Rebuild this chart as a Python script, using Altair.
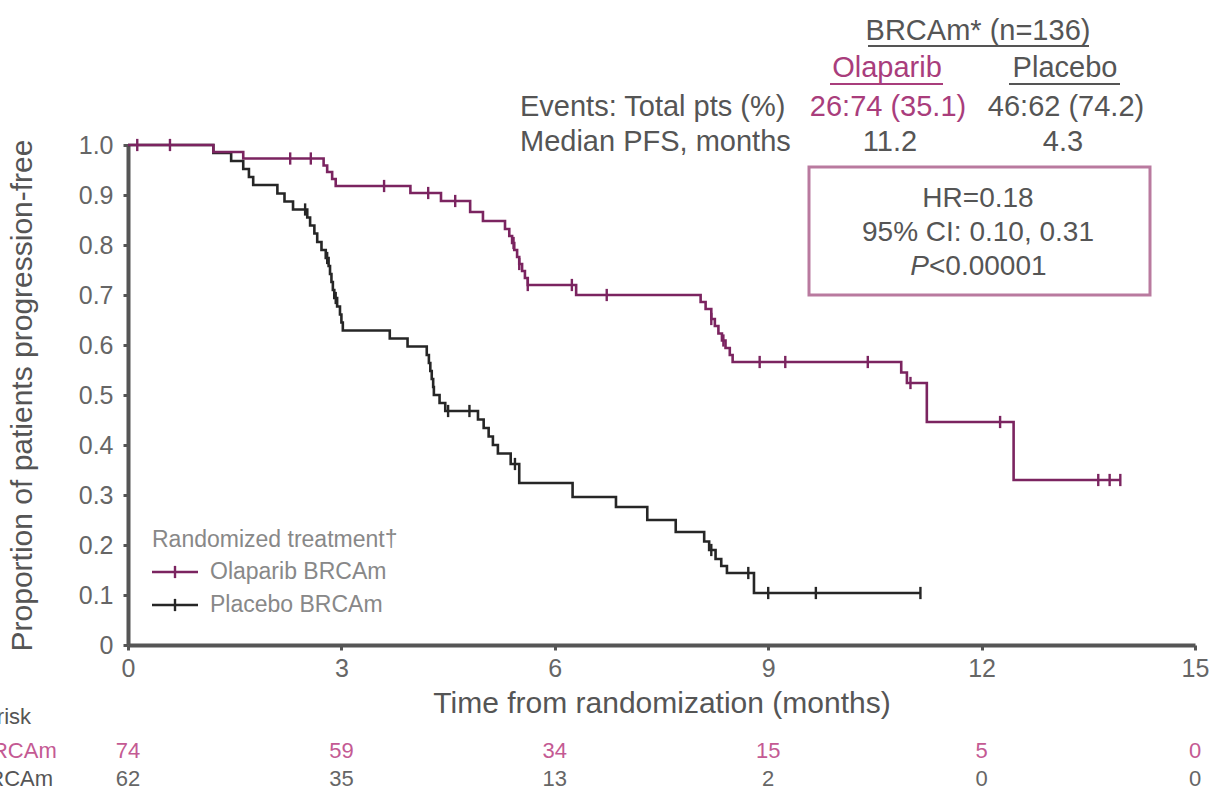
import altair as alt
import pandas as pd

# ---------------- data ----------------
SERIES = ["Olaparib BRCAm", "Placebo BRCAm"]

# Kaplan-Meier steps: month at which the curve drops, proportion progression-free from then on
ola_time = [0, 1.2, 1.62, 2.75, 2.8, 2.87, 2.92, 3.97, 4.4, 4.81, 4.99, 5.3, 5.36, 5.4,
            5.43, 5.47, 5.5, 5.54, 5.58, 5.62, 6.3, 8.05, 8.12, 8.2, 8.25, 8.3, 8.35, 8.4,
            8.46, 8.5, 10.87, 10.95, 11.23, 12.45]
ola_surv = [1.0, 0.986, 0.973, 0.959, 0.946, 0.932, 0.918, 0.904, 0.888, 0.866, 0.848, 0.832,
            0.818, 0.804, 0.79, 0.776, 0.762, 0.748, 0.734, 0.72, 0.70, 0.686, 0.672, 0.652,
            0.638, 0.623, 0.609, 0.594, 0.58, 0.566, 0.545, 0.524, 0.446, 0.33]
ola_censor = [0.13, 0.59, 2.28, 2.57, 3.6, 4.22, 4.6, 5.42, 5.5, 5.62, 6.24, 6.73, 8.2, 8.37,
              8.88, 9.24, 10.4, 11.0, 12.26, 13.64, 13.8, 13.95]

pla_time = [0, 1.2, 1.45, 1.62, 1.7, 1.76, 2.1, 2.2, 2.32, 2.52, 2.56, 2.62, 2.66, 2.72, 2.78,
            2.82, 2.84, 2.86, 2.88, 2.9, 2.94, 2.98, 3.0, 3.02, 3.68, 3.93, 4.2, 4.23, 4.25,
            4.27, 4.29, 4.3, 4.38, 4.46, 4.92, 5.0, 5.07, 5.13, 5.2, 5.38, 5.5, 6.25, 6.86,
            7.3, 7.7, 8.1, 8.17, 8.26, 8.34, 8.42, 8.8]
pla_surv = [1.0, 0.984, 0.968, 0.952, 0.936, 0.92, 0.903, 0.887, 0.871, 0.855, 0.839, 0.823,
            0.806, 0.79, 0.774, 0.758, 0.742, 0.726, 0.71, 0.694, 0.677, 0.661, 0.645, 0.629,
            0.613, 0.597, 0.58, 0.564, 0.548, 0.532, 0.516, 0.5, 0.484, 0.468, 0.451, 0.434,
            0.417, 0.40, 0.383, 0.362, 0.324, 0.296, 0.276, 0.25, 0.226, 0.207, 0.19, 0.172,
            0.158, 0.144, 0.104]
pla_censor = [2.49, 2.8, 2.92, 4.5, 4.8, 5.44, 8.2, 8.72, 9.0, 9.67, 11.14]

# numbers at risk
MONTHS = [0, 3, 6, 9, 12, 15]
at_risk_ola = [74, 59, 34, 15, 5, 0]
at_risk_pla = [62, 35, 13, 2, 0, 0]

Y_TICKS = [0, 0.1, 0.2, 0.3, 0.4, 0.5, 0.6, 0.7, 0.8, 0.9, 1.0]

# summary table text
HEADER = "BRCAm* (n=136)"
ARM_HEAD = ["Olaparib", "Placebo"]
ROW_LABELS = ["Events: Total pts (%)", "Median PFS, months"]
EVENTS = ["26:74 (35.1)", "46:62 (74.2)"]
MEDIANS = ["11.2", "4.3"]
HR_LINES = ["HR=0.18", "95% CI: 0.10, 0.31"]
P_TEXT = ["P", "<0.00001"]
LEGEND_TITLE = "Randomized treatment\u2020"
RISK_TITLE = "Number at risk"

# ---------------- styling ----------------
FONT = "Liberation Sans"
OLA_LINE = "#7b2460"
PLA_LINE = "#262626"
OLA_TEXT = "#a93d7c"
OLA_RISK = "#c45a93"
BOX = "#b97a9f"
GREY = "#555555"
LIGHT = "#888888"
W, H = 1067, 500


def step_rows(name, times, surv, censor):
    rows = [dict(series=name, t=t, s=s) for t, s in zip(times, surv)]
    rows.append(dict(series=name, t=censor[-1], s=surv[-1]))
    return rows


def value_at(times, surv, t):
    v = surv[0]
    for ti, si in zip(times, surv):
        if ti <= t:
            v = si
    return v


ola_steps = pd.DataFrame(step_rows(SERIES[0], ola_time, ola_surv, ola_censor))
pla_steps = pd.DataFrame(step_rows(SERIES[1], pla_time, pla_surv, pla_censor))
censors = pd.DataFrame(
    [dict(series=SERIES[0], t=t, s=value_at(ola_time, ola_surv, t)) for t in ola_censor]
    + [dict(series=SERIES[1], t=t, s=value_at(pla_time, pla_surv, t)) for t in pla_censor]
)
risk = pd.DataFrame(
    [dict(t=m, n=str(v), row=0) for m, v in zip(MONTHS, at_risk_ola)]
    + [dict(t=m, n=str(v), row=1) for m, v in zip(MONTHS, at_risk_pla)]
)

x_scale = alt.Scale(domain=[0, 15], nice=False, zero=False)
y_scale = alt.Scale(domain=[0, 1], nice=False)
color_scale = alt.Scale(domain=SERIES, range=[OLA_LINE, PLA_LINE])

x_axis = alt.Axis(
    values=MONTHS, title="Time from randomization (months)", titleFontSize=30,
    titleFontWeight="normal", titleColor=GREY, titleX=W / 2, titleY=58,
    titleBaseline="middle", labelFontSize=25, labelColor="#666666", labelPadding=6,
    labelFlush=False, tickSize=5, tickWidth=3, tickColor=GREY, domainWidth=4,
    domainColor=GREY, grid=False,
)
y_axis = alt.Axis(
    values=Y_TICKS, labelExpr="datum.value == 0 ? '0' : format(datum.value, '.1f')",
    title="Proportion of patients progression-free", titleFontSize=30,
    titleFontWeight="normal", titleColor=GREY, titleX=-106, titleY=H / 2,
    titleBaseline="middle", labelFontSize=25, labelColor="#666666", labelPadding=10,
    tickSize=5, tickWidth=3, tickColor=GREY, domainWidth=4, domainColor=GREY, grid=False,
)

base_x = alt.X("t:Q", scale=x_scale, axis=None)
base_y = alt.Y("s:Q", scale=y_scale, axis=None)
color = alt.Color("series:N", scale=color_scale, legend=None)

pla_line = alt.Chart(pla_steps).mark_line(interpolate="step-after", strokeWidth=2.6).encode(
    x=alt.X("t:Q", scale=x_scale, axis=x_axis),
    y=alt.Y("s:Q", scale=y_scale, axis=y_axis),
    color=color,
)
ola_line = alt.Chart(ola_steps).mark_line(interpolate="step-after", strokeWidth=2.6).encode(
    x=base_x, y=base_y, color=color
)
censor_marks = alt.Chart(censors).mark_point(
    shape="M0,-1L0,1", size=150, strokeWidth=2.4, filled=False, opacity=1
).encode(x=base_x, y=base_y, color=color)

risk_ola = alt.Chart(risk).transform_filter("datum.row == 0").mark_text(
    fontSize=22, color=OLA_RISK, align="center", baseline="middle"
).encode(x=base_x, y=alt.value(606), text="n:N")
risk_pla = alt.Chart(risk).transform_filter("datum.row == 1").mark_text(
    fontSize=22, color="#666666", align="center", baseline="middle"
).encode(x=base_x, y=alt.value(634), text="n:N")

# ---------------- annotation layout (pixel positions relative to the plot area) ----------------
centered = pd.DataFrame([
    dict(text=HEADER, px=850, py=-114, c=GREY, fs=29),
    dict(text=ARM_HEAD[0], px=759, py=-77, c=OLA_TEXT, fs=29),
    dict(text=ARM_HEAD[1], px=937, py=-77, c=GREY, fs=29),
    dict(text=EVENTS[0], px=760, py=-38, c=OLA_TEXT, fs=29),
    dict(text=EVENTS[1], px=938, py=-38, c=GREY, fs=29),
    dict(text=MEDIANS[0], px=762, py=-3, c=GREY, fs=29),
    dict(text=MEDIANS[1], px=935, py=-3, c=GREY, fs=29),
    dict(text=HR_LINES[0], px=850, py=54, c=GREY, fs=28),
    dict(text=HR_LINES[1], px=850, py=88, c=GREY, fs=28),
])
left = pd.DataFrame([
    dict(text=ROW_LABELS[0], px=392, py=-38, c=GREY, fs=29),
    dict(text=ROW_LABELS[1], px=392, py=-3, c=GREY, fs=29),
    dict(text=P_TEXT[1], px=801, py=122, c=GREY, fs=28),
    dict(text=LEGEND_TITLE, px=24, py=395, c=LIGHT, fs=23),
    dict(text=SERIES[0], px=82, py=427, c=LIGHT, fs=23),
    dict(text=SERIES[1], px=82, py=460, c=LIGHT, fs=23),
    dict(text=RISK_TITLE, px=-240, py=572, c=GREY, fs=22),
    dict(text=SERIES[0], px=-240, py=606, c=OLA_RISK, fs=22),
    dict(text=SERIES[1], px=-240, py=634, c=GREY, fs=22),
])
italic = pd.DataFrame([dict(text=P_TEXT[0], px=801, py=122, c=GREY, fs=28)])

rules = pd.DataFrame([
    dict(x1=740, x2=961, y=-99, c=GREY, w=2),
    dict(x1=702, x2=815, y=-61, c=OLA_TEXT, w=2),
    dict(x1=881, x2=992, y=-61, c=GREY, w=2),
    dict(x1=24, x2=70, y=427, c=OLA_LINE, w=2.6),
    dict(x1=24, x2=70, y=460, c=PLA_LINE, w=2.6),
])
legend_ticks = pd.DataFrame([dict(px=47, py=427, c=OLA_LINE), dict(px=47, py=460, c=PLA_LINE)])
box = pd.DataFrame([dict(x1=681, x2=1022, y1=22, y2=150)])

px = alt.X("px:Q", scale=None, axis=None)
py = alt.Y("py:Q", scale=None, axis=None)
tc = alt.Color("c:N", scale=None)
fsz = alt.Size("fs:Q", scale=None)

text_center = alt.Chart(centered).mark_text(align="center", baseline="middle").encode(
    x=px, y=py, text="text:N", color=tc, size=fsz)
text_left = alt.Chart(left).mark_text(align="left", baseline="middle").encode(
    x=px, y=py, text="text:N", color=tc, size=fsz)
text_italic = alt.Chart(italic).mark_text(align="right", baseline="middle", fontStyle="italic").encode(
    x=px, y=py, text="text:N", color=tc, size=fsz)
rule_layer = alt.Chart(rules).mark_rule().encode(
    x=alt.X("x1:Q", scale=None, axis=None), x2="x2:Q",
    y=alt.Y("y:Q", scale=None, axis=None), color=tc,
    strokeWidth=alt.StrokeWidth("w:Q", scale=None))
tick_layer = alt.Chart(legend_ticks).mark_point(
    shape="M0,-1L0,1", size=150, strokeWidth=2.4, filled=False, opacity=1
).encode(x=px, y=py, color=tc)
box_layer = alt.Chart(box).mark_rect(fillOpacity=0, stroke=BOX, strokeWidth=3).encode(
    x=alt.X("x1:Q", scale=None, axis=None), x2="x2:Q",
    y=alt.Y("y1:Q", scale=None, axis=None), y2="y2:Q")

chart = alt.layer(
    pla_line, ola_line, censor_marks, risk_ola, risk_pla,
    box_layer, rule_layer, tick_layer, text_center, text_left, text_italic,
).resolve_scale(color="independent").resolve_axis(x="independent", y="independent").properties(
    width=W, height=H,
    padding={"left": 128, "top": 145, "right": 17, "bottom": 147},
    autosize=alt.AutoSizeParams(type="none"),
    background="white",
).configure(font=FONT).configure_view(stroke=None)

chart.save("out.html", embed_options={"renderer": "svg", "actions": False})
